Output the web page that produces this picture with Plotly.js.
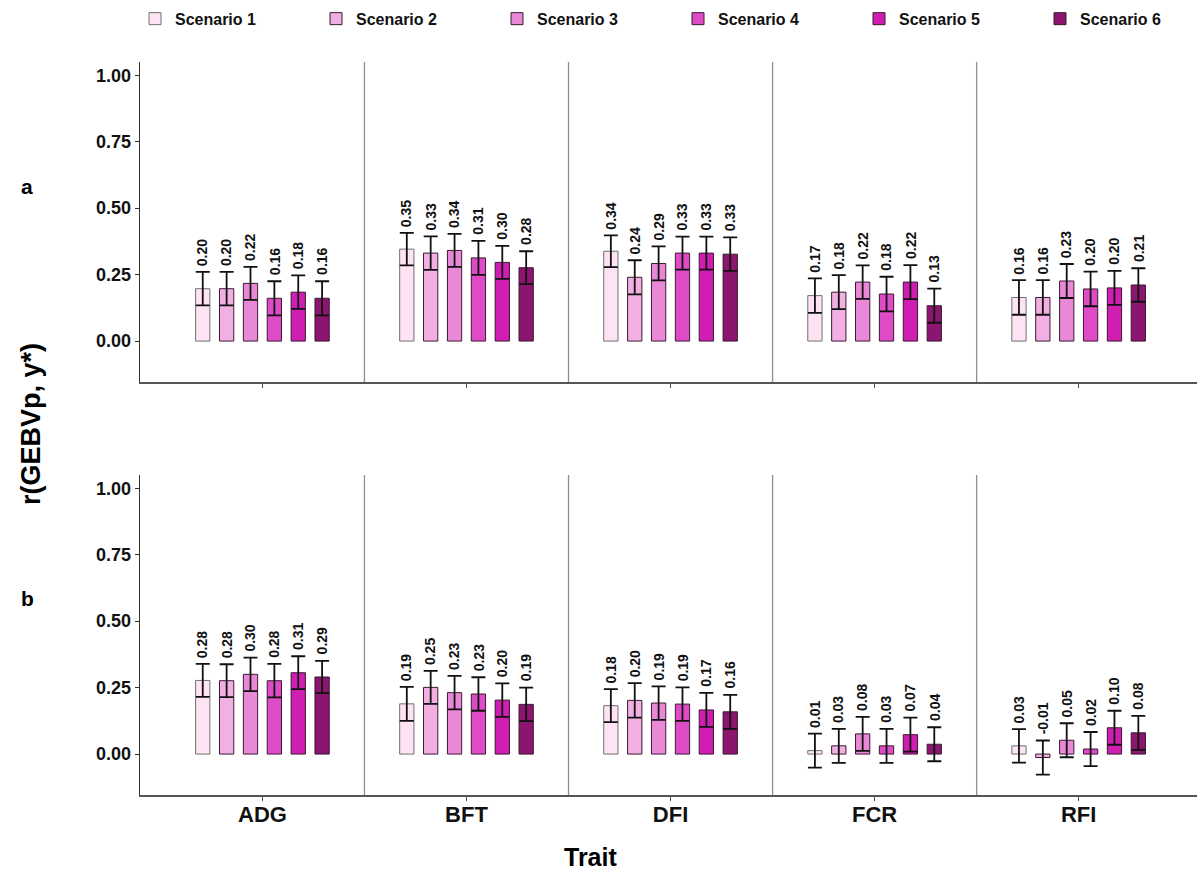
<!DOCTYPE html>
<html>
<head>
<meta charset="utf-8">
<script src="https://cdn.plot.ly/plotly-3.0.1.min.js"></script>
<style>html,body{margin:0;padding:0;background:#fff;}#chart{width:1203px;height:879px;}</style>
</head>
<body>
<div id="chart"></div>
<script>
// ---- data ----
const traits = ["ADG", "BFT", "DFI", "FCR", "RFI"];
const scenarios = ["Scenario 1", "Scenario 2", "Scenario 3", "Scenario 4", "Scenario 5", "Scenario 6"];
const colors = ["#fde3f3", "#f2b0e2", "#ea88d8", "#df4ac6", "#cf1eb1", "#8c156f"];
const outline = ["#707070", "#3a1a30", "#3a1a30", "#3a1a30", "#3a1a30", "#3a1a30"];

// panel a: rows = scenarios, columns = traits (ADG, BFT, DFI, FCR, RFI)
const meanA = [
  [0.197, 0.346, 0.338, 0.171, 0.164],
  [0.197, 0.331, 0.240, 0.184, 0.164],
  [0.217, 0.341, 0.292, 0.222, 0.226],
  [0.161, 0.313, 0.331, 0.177, 0.196],
  [0.184, 0.296, 0.331, 0.222, 0.200],
  [0.161, 0.276, 0.327, 0.133, 0.211]
];
const errA = [
  [0.063, 0.061, 0.060, 0.065, 0.065],
  [0.063, 0.063, 0.064, 0.064, 0.065],
  [0.062, 0.062, 0.064, 0.063, 0.064],
  [0.064, 0.064, 0.062, 0.065, 0.065],
  [0.063, 0.062, 0.062, 0.064, 0.064],
  [0.064, 0.062, 0.063, 0.064, 0.063]
];
// panel b
const meanB = [
  [0.277, 0.189, 0.182, 0.013, 0.031],
  [0.276, 0.251, 0.202, 0.031, -0.013],
  [0.300, 0.231, 0.192, 0.076, 0.052],
  [0.276, 0.226, 0.188, 0.031, 0.019],
  [0.306, 0.203, 0.166, 0.073, 0.099],
  [0.290, 0.187, 0.159, 0.037, 0.080]
];
const errB = [
  [0.062, 0.064, 0.062, 0.064, 0.063],
  [0.062, 0.062, 0.065, 0.064, 0.064],
  [0.063, 0.063, 0.063, 0.064, 0.064],
  [0.063, 0.063, 0.063, 0.064, 0.064],
  [0.062, 0.063, 0.064, 0.064, 0.064],
  [0.061, 0.063, 0.064, 0.064, 0.064]
];
const yTicks = [0, 0.25, 0.5, 0.75, 1.0];
const yTickText = ["0.00", "0.25", "0.50", "0.75", "1.00"];

// ---- build ----
const FONT = "Liberation Sans, Arial, sans-serif";
const slot = 0.117, barW = 0.07;
const traitIdx = traits.map((_, i) => i);
function xpos(s) { return traitIdx.map(i => i + (s - 2.5) * slot); }

const W = 1203, H = 879, L = 140, R = 6;
const pw = W - L - R;
function px(xp) { return (xp - L) / pw; }
function py(yp) { return 1 - yp / H; }

const legendName = s => (s === 0 ? "legend" : "legend" + (s + 1));

const traces = [];
const annotations = [];
function addPanel(means, errs, xa, ya, showLeg) {
  scenarios.forEach((name, s) => {
    const xs = xpos(s);
    traces.push({
      type: "bar", x: xs, y: means[s], width: barW, name: name,
      xaxis: xa, yaxis: ya, showlegend: showLeg, legend: legendName(s),
      marker: { color: colors[s], line: { color: outline[s], width: 1 } },
      error_y: { type: "data", array: errs[s], visible: true, color: "#111", thickness: 1.8, width: 7 },
      hoverinfo: "skip"
    });
    xs.forEach((x, i) => {
      annotations.push({
        xref: xa, yref: ya, x: x, y: means[s][i] + errs[s][i],
        text: "<b>" + means[s][i].toFixed(2) + "</b>", showarrow: false,
        textangle: -90, xanchor: "center", yanchor: "bottom", yshift: 4,
        font: { family: FONT, size: 14, color: "#111" }
      });
    });
  });
}
addPanel(meanA, errA, "x", "y", true);
addPanel(meanB, errB, "x2", "y2", false);

// separators
const shapes = [];
[0.5, 1.5, 2.5, 3.5].forEach(v => {
  ["y", "y2"].forEach(ya => {
    shapes.push({ type: "line", xref: ya === "y" ? "x" : "x2", yref: ya + " domain", x0: v, x1: v, y0: 0, y1: 1,
      line: { color: "#8f8f8f", width: 1.3 } });
  });
});

annotations.push(
  { xref: "paper", yref: "paper", x: px(31), y: py(424), text: "<b>r(GEBVp, y*)</b>", textangle: -90,
    xanchor: "center", yanchor: "middle", showarrow: false, font: { family: FONT, size: 27, color: "#000" } },
  { xref: "paper", yref: "paper", x: px(27), y: py(186), text: "<b>a</b>", showarrow: false,
    xanchor: "center", yanchor: "middle", font: { family: FONT, size: 21, color: "#000" } },
  { xref: "paper", yref: "paper", x: px(27), y: py(598), text: "<b>b</b>", showarrow: false,
    xanchor: "center", yanchor: "middle", font: { family: FONT, size: 21, color: "#000" } },
  { xref: "paper", yref: "paper", x: px(590), y: py(857), text: "<b>Trait</b>", showarrow: false,
    xanchor: "center", yanchor: "middle", font: { family: FONT, size: 25, color: "#000" } }
);

const yRange = [-0.154, 1.05];
const xRange = [-0.6, 4.58];
const yCommon = {
  range: yRange, tickvals: yTicks, ticktext: yTickText, showgrid: false, zeroline: false,
  showline: true, linecolor: "#333", linewidth: 1.3, ticks: "outside", ticklen: 4, tickcolor: "#333",
  tickfont: { family: FONT, size: 18, color: "#111", weight: "bold" }, fixedrange: true
};
const xCommon = {
  range: xRange, tickvals: traitIdx, ticktext: traits, showgrid: false, zeroline: false,
  showline: true, linecolor: "#555", linewidth: 1.5, ticks: "outside", ticklen: 4, tickcolor: "#555",
  tickfont: { family: FONT, size: 22, color: "#111", weight: "bold" }, fixedrange: true
};

const layout = {
  width: W, height: H,
  margin: { l: L, r: R, t: 0, b: 0, autoexpand: false },
  paper_bgcolor: "#fff", plot_bgcolor: "#fff",
  barmode: "overlay",
  xaxis: Object.assign({}, xCommon, { anchor: "y", showticklabels: false }),
  yaxis: Object.assign({}, yCommon, { anchor: "x", domain: [py(382), py(62)] }),
  xaxis2: Object.assign({}, xCommon, { anchor: "y2", showticklabels: true, ticklabelstandoff: -5 }),
  yaxis2: Object.assign({}, yCommon, { anchor: "x2", domain: [py(795), py(475)] }),
  showlegend: true,
  shapes: shapes,
  annotations: annotations
};
scenarios.forEach((_, s) => {
  layout[legendName(s)] = {
    orientation: "h", x: px(135 + 181 * s), xanchor: "left", y: 0.998, yanchor: "top",
    font: { family: FONT, size: 16, color: "#111", weight: "bold" }, bgcolor: "rgba(0,0,0,0)"
  };
});

Plotly.newPlot("chart", traces, layout, { displayModeBar: false, staticPlot: true });
</script>
</body>
</html>
